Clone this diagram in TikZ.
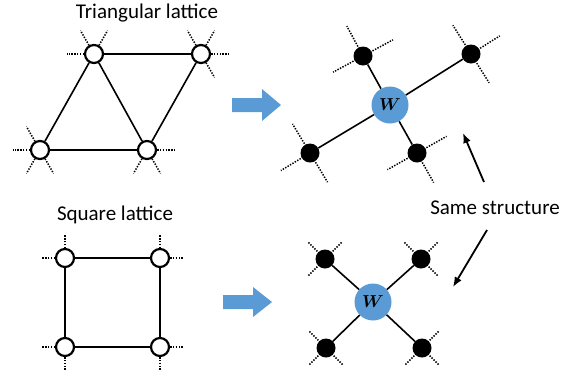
\documentclass[tikz,border=0pt]{standalone}
\usepackage{fontspec}
\setmainfont{Carlito}
\usepackage{amsmath,bm}
\usetikzlibrary{calc,arrows.meta}
\definecolor{wblue}{HTML}{5B9BD5}
\tikzset{
  opennode/.style={circle,draw,line width=2.2pt,fill=white,minimum size=18pt,inner sep=0pt},
  blacknode/.style={circle,fill=black,minimum size=19pt,inner sep=0pt},
  wnode/.style={circle,fill=wblue,minimum size=37pt,inner sep=0pt,font=\fontsize{17}{17}\selectfont},
  edge/.style={line width=1.6pt},
  stub/.style={line width=1.5pt,dash pattern=on 1.4pt off 1.4pt},
  txt/.style={font=\fontsize{21}{24}\selectfont,inner sep=0pt},
  blockarrow/.style={fill=wblue,draw=none},
  pointer/.style={line width=1.8pt,-{Latex[length=10pt,width=8pt]}}
}
\begin{document}
\begin{tikzpicture}[x=1pt,y=1pt]
\useasboundingbox (0,0) rectangle (575,-373);
% ---------- Triangular lattice ----------
\node[txt] (ttitle) at (147,-13) {Triangular lattice};
\node[opennode] (ta) at (94,-54) {};
\node[opennode] (tb) at (201,-54) {};
\node[opennode] (tc) at (40,-150) {};
\node[opennode] (td) at (147,-150) {};
\draw[edge] (ta) -- (tb);
\draw[edge] (tc) -- (td);
\draw[edge] (ta) -- (tc);
\draw[edge] (ta) -- (td);
\draw[edge] (tb) -- (td);
\foreach \n/\a in {ta/180,ta/120,ta/60,tb/120,tb/60,tb/0,tb/-60,tc/180,tc/120,tc/-120,tc/-60,td/0,td/-60,td/-120}
  \draw[stub] (\n.\a) -- ++(\a:17);
% ---------- Square lattice ----------
\node[txt] (stitle) at (115,-215) {Square lattice};
\node[opennode] (sa) at (65,-258) {};
\node[opennode] (sb) at (160,-258) {};
\node[opennode] (sc) at (65,-347) {};
\node[opennode] (sd) at (160,-347) {};
\draw[edge] (sa) -- (sb);
\draw[edge] (sb) -- (sd);
\draw[edge] (sd) -- (sc);
\draw[edge] (sc) -- (sa);
\foreach \n/\a in {sa/180,sa/90,sb/0,sb/90,sc/180,sc/-90,sd/0,sd/-90}
  \draw[stub] (\n.\a) -- ++(\a:13);
% ---------- block arrows ----------
\fill[blockarrow] (232,-98) -- (262,-98) -- (262,-89) -- (281,-105) -- (262,-121) -- (262,-112) -- (232,-112) -- cycle;
\fill[blockarrow] (223,-295) -- (253,-295) -- (253,-287) -- (272,-302) -- (253,-317) -- (253,-309) -- (223,-309) -- cycle;
% ---------- top W structure ----------
\node[wnode] (w1) at (390,-105) {$\bm{W}$};
\node[blacknode] (p1) at (363,-56) {};
\node[blacknode] (p2) at (471,-54) {};
\node[blacknode] (p3) at (310,-153) {};
\node[blacknode] (p4) at (417,-153) {};
\foreach \n/\a in {p1/118.4,p1/28.4,p1/208.4,p2/32.2,p2/122.2,p2/-57.8,p3/211,p3/121,p3/-59,p4/-60.6,p4/29.4,p4/209.4}
  \draw[stub] (\n.center) ++(\a:8) -- ++(\a:26);
\draw[edge] (w1) -- (p1);
\draw[edge] (w1) -- (p2);
\draw[edge] (w1) -- (p3);
\draw[edge] (w1) -- (p4);
% ---------- bottom W structure ----------
\node[wnode] (w2) at (373,-302) {$\bm{W}$};
\node[blacknode] (q1) at (325,-259) {};
\node[blacknode] (q2) at (421,-259) {};
\node[blacknode] (q3) at (326,-348) {};
\node[blacknode] (q4) at (422,-348) {};
\foreach \n/\a in {q1/135,q1/45,q1/225,q2/45,q2/135,q2/-45,q3/225,q3/135,q3/-45,q4/-45,q4/45,q4/225}
  \draw[stub] (\n.center) ++(\a:8) -- ++(\a:16);
\draw[edge] (w2) -- (q1);
\draw[edge] (w2) -- (q2);
\draw[edge] (w2) -- (q3);
\draw[edge] (w2) -- (q4);
% ---------- Same structure ----------
\node[txt] (same) at (495,-208) {Same structure};
\coordinate (up) at (463,-133);
\coordinate (dn) at (453,-287);
\coordinate (upstart) at (484,-182);
\coordinate (dnstart) at (487,-230);
\draw[pointer] (upstart) -- (up);
\draw[pointer] (dnstart) -- (dn);
\end{tikzpicture}
\end{document}
